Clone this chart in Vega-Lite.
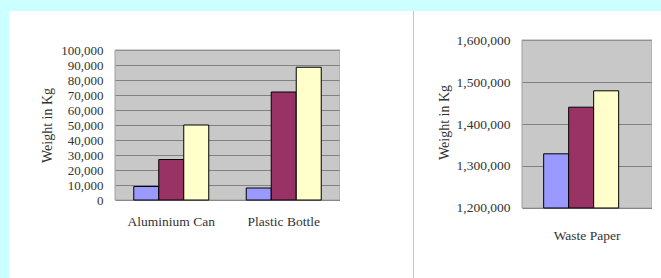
{
  "$schema": "https://vega.github.io/schema/vega-lite/v6.json",
  "padding": {"top": 11, "left": 9, "right": 0, "bottom": 0},
  "background": "#CCFFFF",
  "bounds": "flush",
  "spacing": 0,
  "datasets": {
    "left": [
      {"item": "Aluminium Can", "series": "A", "weight": 9000},
      {"item": "Aluminium Can", "series": "B", "weight": 27000},
      {"item": "Aluminium Can", "series": "C", "weight": 50000},
      {"item": "Plastic Bottle", "series": "A", "weight": 8000},
      {"item": "Plastic Bottle", "series": "B", "weight": 72000},
      {"item": "Plastic Bottle", "series": "C", "weight": 88500}
    ],
    "right": [
      {"item": "Waste Paper", "series": "A", "weight": 1329000},
      {"item": "Waste Paper", "series": "B", "weight": 1440000},
      {"item": "Waste Paper", "series": "C", "weight": 1479000}
    ],
    "blank": [{}]
  },
  "config": {
    "view": {"stroke": null},
    "axis": {
      "labelFont": "Liberation Serif",
      "titleFont": "Liberation Serif",
      "labelColor": "#333333",
      "titleColor": "#333333",
      "titleFontWeight": "normal"
    }
  },
  "hconcat": [
    {
      "width": 106, "height": 267,
      "data": {"name": "blank"},
      "mark": {"type": "point", "opacity": 0},
      "encoding": {},
      "view": {"fill": "#FFFFFF", "stroke": null}
    },
    {
      "width": 225, "height": 267,
      "view": {"fill": "#FFFFFF", "stroke": null},
      "layer": [
        {
          "data": {"name": "blank"},
          "mark": {"type": "rect", "fill": "#919191", "fillOpacity": 0.5, "stroke": "#A0A0A0", "strokeWidth": 1},
          "encoding": {
            "y": {
              "datum": 100000, "type": "quantitative",
              "scale": {"domain": [-52000, 126000], "nice": false, "zero": false},
              "axis": {
                "title": "Weight in Kg", "titleFontSize": 14, "titleFontWeight": "normal", "titlePadding": 6, "titleY": 114,
                "values": [0, 10000, 20000, 30000, 40000, 50000, 60000, 70000, 80000, 90000, 100000],
                "format": ",d", "grid": true, "gridColor": "#707070", "gridWidth": 1,
                "labelOverlap": false, "labelBound": false,
                "domain": false, "ticks": false, "labelPadding": 12, "labelFontSize": 13
              }
            },
            "y2": {"datum": 0}
          }
        },
        {
          "data": {"name": "left"},
          "mark": {"type": "bar", "stroke": "#000000", "strokeWidth": 1},
          "encoding": {
            "x": {
              "field": "item", "type": "nominal", "sort": null,
              "scale": {"paddingInner": 0.3333, "paddingOuter": 0.1667},
              "axis": {"title": null, "labelAngle": 0, "ticks": false, "domain": false, "offset": -78, "labelPadding": 14, "labelFontSize": 13.5}
            },
            "xOffset": {
              "field": "series", "type": "nominal", "sort": null,
              "scale": {"paddingInner": 0, "paddingOuter": 0}
            },
            "y": {
              "field": "weight", "type": "quantitative",
              "scale": {"domain": [-52000, 126000], "nice": false, "zero": false},
              "axis": {
                "title": "Weight in Kg", "titleFontSize": 14, "titleFontWeight": "normal", "titlePadding": 6, "titleY": 114,
                "values": [0, 10000, 20000, 30000, 40000, 50000, 60000, 70000, 80000, 90000, 100000],
                "format": ",d", "grid": true, "gridColor": "#707070", "gridWidth": 1,
                "labelOverlap": false, "labelBound": false,
                "domain": false, "ticks": false, "labelPadding": 12, "labelFontSize": 13
              }
            },
            "y2": {"datum": 0},
            "color": {
              "field": "series", "type": "nominal", "sort": null,
              "scale": {"range": ["#9999FF", "#993366", "#FFFFCC"]},
              "legend": null
            }
          }
        }
      ]
    },
    {
      "width": 73, "height": 267,
      "data": {"name": "blank"},
      "mark": {"type": "point", "opacity": 0},
      "encoding": {},
      "view": {"fill": "#FFFFFF", "stroke": null}
    },
    {
      "width": 1, "height": 267,
      "data": {"name": "blank"},
      "mark": {"type": "point", "opacity": 0},
      "encoding": {},
      "view": {"fill": "#C4C4C4", "stroke": null}
    },
    {
      "width": 108, "height": 267,
      "data": {"name": "blank"},
      "mark": {"type": "point", "opacity": 0},
      "encoding": {},
      "view": {"fill": "#FFFFFF", "stroke": null}
    },
    {
      "width": 130, "height": 267,
      "view": {"fill": "#FFFFFF", "stroke": null},
      "layer": [
        {
          "data": {"name": "blank"},
          "mark": {"type": "rect", "fill": "#919191", "fillOpacity": 0.5, "stroke": "#A0A0A0", "strokeWidth": 1},
          "encoding": {
            "y": {
              "datum": 1600000, "type": "quantitative",
              "scale": {"domain": [1033333, 1669048], "nice": false, "zero": false},
              "axis": {
                "title": "Weight in Kg", "titleFontSize": 14, "titleFontWeight": "normal", "titlePadding": 5, "titleY": 111,
                "values": [1200000, 1300000, 1400000, 1500000, 1600000],
                "format": ",d", "grid": true, "gridColor": "#707070", "gridWidth": 1,
                "labelOverlap": false, "labelBound": false,
                "domain": false, "ticks": false, "labelPadding": 12, "labelFontSize": 13.5
              }
            },
            "y2": {"datum": 1200000}
          }
        },
        {
          "data": {"name": "right"},
          "mark": {"type": "bar", "stroke": "#000000", "strokeWidth": 1},
          "encoding": {
            "x": {
              "field": "item", "type": "nominal", "sort": null,
              "scale": {"paddingInner": 0.3333, "paddingOuter": 0.1667},
              "axis": {"title": null, "labelAngle": 0, "ticks": false, "domain": false, "offset": -70, "labelPadding": 20, "labelFontSize": 13.5}
            },
            "xOffset": {
              "field": "series", "type": "nominal", "sort": null,
              "scale": {"paddingInner": 0, "paddingOuter": 0}
            },
            "y": {
              "field": "weight", "type": "quantitative",
              "scale": {"domain": [1033333, 1669048], "nice": false, "zero": false},
              "axis": {
                "title": "Weight in Kg", "titleFontSize": 14, "titleFontWeight": "normal", "titlePadding": 5, "titleY": 111,
                "values": [1200000, 1300000, 1400000, 1500000, 1600000],
                "format": ",d", "grid": true, "gridColor": "#707070", "gridWidth": 1,
                "labelOverlap": false, "labelBound": false,
                "domain": false, "ticks": false, "labelPadding": 12, "labelFontSize": 13.5
              }
            },
            "y2": {"datum": 1200000},
            "color": {
              "field": "series", "type": "nominal", "sort": null,
              "scale": {"range": ["#9999FF", "#993366", "#FFFFCC"]},
              "legend": null
            }
          }
        }
      ]
    },
    {
      "width": 9, "height": 267,
      "data": {"name": "blank"},
      "mark": {"type": "point", "opacity": 0},
      "encoding": {},
      "view": {"fill": "#FFFFFF", "stroke": null}
    }
  ]
}
